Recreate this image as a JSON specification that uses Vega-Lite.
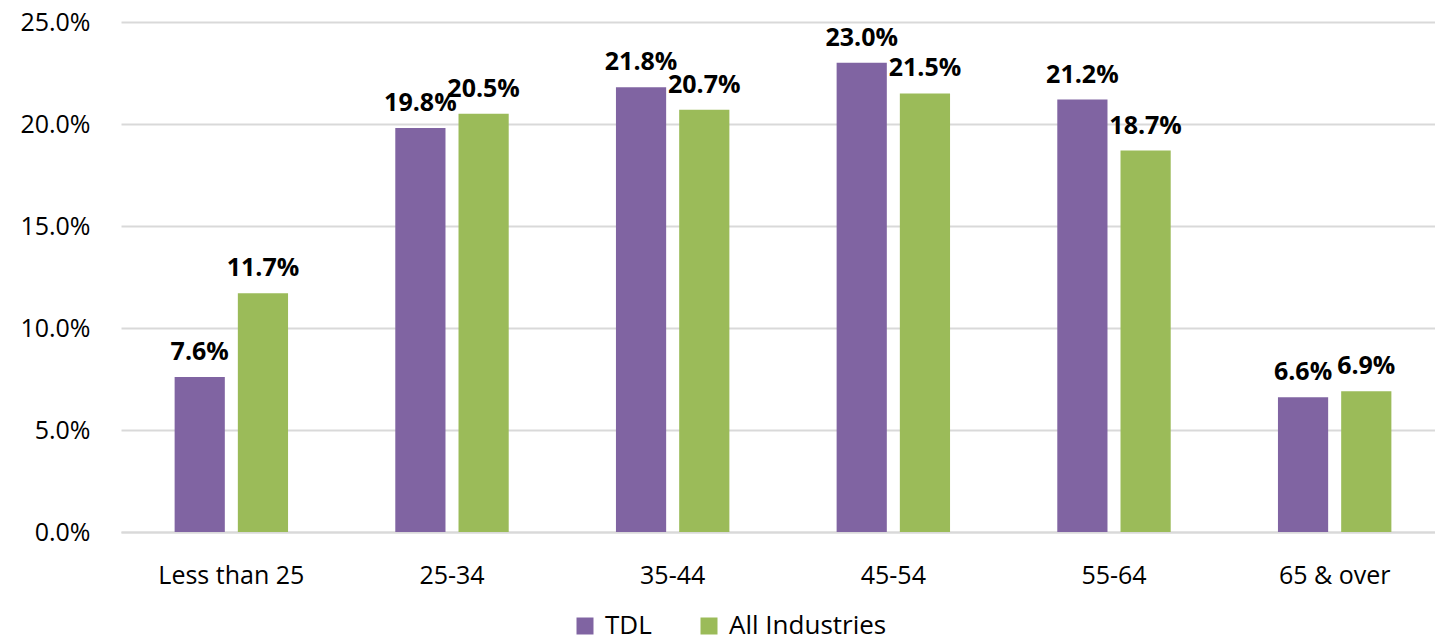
{
  "$schema": "https://vega.github.io/schema/vega-lite/v6.json",
  "autosize": "none",
  "width": 1324,
  "height": 510,
  "padding": {"left": 121, "top": 22, "right": 0, "bottom": 111},
  "background": "white",
  "config": {
    "view": {"stroke": null},
    "font": "Open Sans",
    "axis": {"labelFont": "Open Sans", "labelColor": "#000000"}
  },
  "data": {
    "values": [
      {"age": "Less than 25", "group": "TDL", "share": 0.076},
      {"age": "Less than 25", "group": "All Industries", "share": 0.117},
      {"age": "25-34", "group": "TDL", "share": 0.198},
      {"age": "25-34", "group": "All Industries", "share": 0.205},
      {"age": "35-44", "group": "TDL", "share": 0.218},
      {"age": "35-44", "group": "All Industries", "share": 0.207},
      {"age": "45-54", "group": "TDL", "share": 0.23},
      {"age": "45-54", "group": "All Industries", "share": 0.215},
      {"age": "55-64", "group": "TDL", "share": 0.212},
      {"age": "55-64", "group": "All Industries", "share": 0.187},
      {"age": "65 & over", "group": "TDL", "share": 0.066},
      {"age": "65 & over", "group": "All Industries", "share": 0.069}
    ]
  },
  "encoding": {
    "x": {
      "field": "age",
      "type": "nominal",
      "sort": null,
      "title": null,
      "scale": {"paddingInner": 0.486, "paddingOuter": 0.243},
      "axis": {
        "labelAngle": 0,
        "labelFontSize": 25,
        "labelPadding": 43,
        "labelBaseline": "middle",
        "ticks": false,
        "domain": true,
        "domainColor": "#D9D9D9",
        "domainWidth": 2
      }
    },
    "xOffset": {
      "field": "group",
      "type": "nominal",
      "sort": ["TDL", "All Industries"],
      "scale": {"paddingInner": 0.206, "paddingOuter": 0}
    },
    "y": {
      "field": "share",
      "type": "quantitative",
      "title": null,
      "scale": {"domain": [0, 0.25], "nice": false},
      "axis": {
        "values": [0, 0.05, 0.1, 0.15, 0.2, 0.25],
        "format": ".1%",
        "labelFontSize": 25,
        "labelPadding": 31,
        "ticks": false,
        "domain": false,
        "gridColor": "#D9D9D9",
        "gridWidth": 2
      }
    }
  },
  "layer": [
    {
      "mark": {"type": "bar"},
      "encoding": {
        "color": {
          "field": "group",
          "type": "nominal",
          "sort": ["TDL", "All Industries"],
          "scale": {"domain": ["TDL", "All Industries"], "range": ["#8064A2", "#9BBB59"]},
          "legend": {
            "title": null,
            "orient": "none",
            "direction": "horizontal",
            "legendX": 451,
            "legendY": 591,
            "symbolType": "square",
            "symbolSize": 289,
            "symbolStrokeWidth": 0,
            "labelFontSize": 26,
            "labelFont": "Open Sans",
            "labelColor": "#000000",
            "columnPadding": 44,
            "labelOffset": 7
          }
        }
      }
    },
    {
      "mark": {
        "type": "text",
        "baseline": "middle",
        "dy": -25,
        "fontSize": 25,
        "fontWeight": "bold",
        "color": "#000000"
      },
      "encoding": {
        "text": {"field": "share", "type": "quantitative", "format": ".1%"}
      }
    }
  ]
}
